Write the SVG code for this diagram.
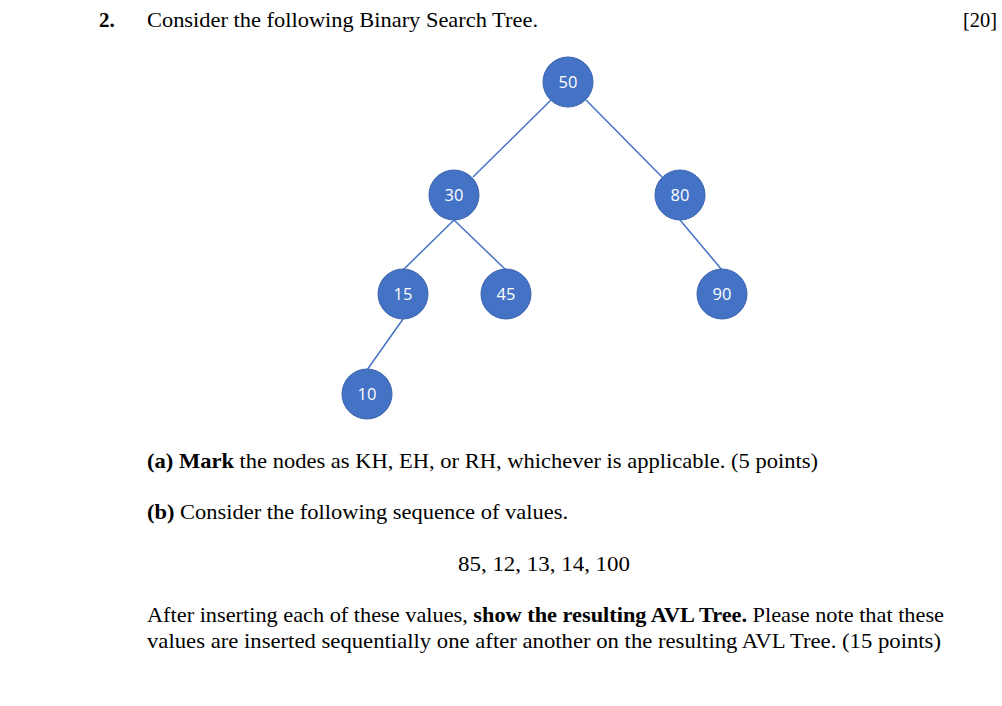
<svg xmlns="http://www.w3.org/2000/svg" width="1002" height="706" viewBox="0 0 1002 706">
<style>
.t{font-family:"Liberation Serif","Times New Roman",serif;font-size:21px;fill:#000}
.b{font-weight:bold}
.n circle{fill:#4472C4;stroke:#3B64AE;stroke-width:1}
.n text{font-family:"Open Sans","Liberation Sans",sans-serif;font-size:16.5px;fill:#fff;text-anchor:middle}
.e line{stroke:#4472C4;stroke-width:1.5}
</style>
<rect width="1002" height="706" fill="#fff"/>
<text class="t b" x="99" y="27">2.</text>
<text class="t" x="147" y="27" textLength="391" lengthAdjust="spacingAndGlyphs">Consider the following Binary Search Tree.</text>
<text class="t" x="963" y="27" textLength="34" lengthAdjust="spacingAndGlyphs">[20]</text>
<g id="edges" class="e">
<line x1="551" y1="100" x2="473" y2="177"/>
<line x1="586" y1="100" x2="662" y2="177"/>
<line x1="454" y1="220" x2="403" y2="270"/>
<line x1="454" y1="220" x2="506" y2="270"/>
<line x1="680" y1="220" x2="722" y2="270"/>
<line x1="403" y1="319" x2="367" y2="370"/>
</g>
<g id="n50" class="n"><circle cx="568" cy="82" r="25"/><text x="568" y="88">50</text></g>
<g id="n30" class="n"><circle cx="454" cy="195" r="25"/><text x="454" y="201">30</text></g>
<g id="n80" class="n"><circle cx="680" cy="195" r="25"/><text x="680" y="201">80</text></g>
<g id="n15" class="n"><circle cx="403" cy="294" r="25"/><text x="403" y="300">15</text></g>
<g id="n45" class="n"><circle cx="506" cy="294" r="25"/><text x="506" y="300">45</text></g>
<g id="n90" class="n"><circle cx="722" cy="294" r="25"/><text x="722" y="300">90</text></g>
<g id="n10" class="n"><circle cx="367" cy="394" r="25"/><text x="367" y="400">10</text></g>
<text class="t" x="147" y="468" textLength="671" lengthAdjust="spacingAndGlyphs"><tspan class="b">(a) Mark</tspan> the nodes as KH, EH, or RH, whichever is applicable. (5 points)</text>
<text class="t" x="147" y="519" textLength="421" lengthAdjust="spacingAndGlyphs"><tspan class="b">(b)</tspan> Consider the following sequence of values.</text>
<text class="t" x="458" y="571" textLength="172" lengthAdjust="spacingAndGlyphs">85, 12, 13, 14, 100</text>
<text class="t" x="147" y="622" textLength="797" lengthAdjust="spacingAndGlyphs">After inserting each of these values, <tspan class="b">show the resulting AVL Tree.</tspan> Please note that these</text>
<text class="t" x="147" y="648" textLength="794" lengthAdjust="spacingAndGlyphs">values are inserted sequentially one after another on the resulting AVL Tree. (15 points)</text>
</svg>
